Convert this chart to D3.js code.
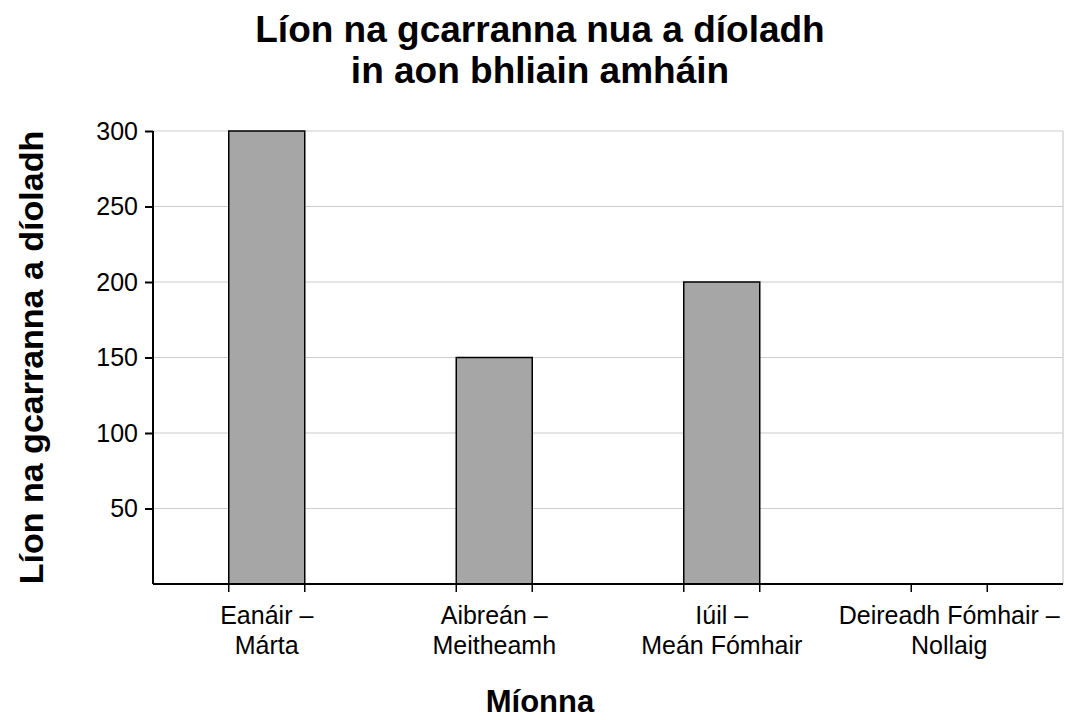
<!DOCTYPE html>
<meta charset="utf-8">
<script src="https://d3js.org/d3.v7.min.js"></script>
<style>
  body { margin: 0; background: #fff; }
  text { font-family: "Liberation Sans", Arial, sans-serif; }
</style>
<div id="page"></div>
<script>
  // Data
  var categories = [["Eanáir –", "Márta"], ["Aibreán –", "Meitheamh"], ["Iúil –", "Meán Fómhair"], ["Deireadh Fómhair –", "Nollaig"]];
  var values = [300, 150, 200, 0];
  var yTicks = [50, 100, 150, 200, 250, 300];
  var titleLines = ["Líon na gcarranna nua a díoladh", "in aon bhliain amháin"];

  var margin = { top: 131, right: 7, bottom: 136, left: 153 },
    width = 1070 - margin.left - margin.right,
    height = 720 - margin.top - margin.bottom;

  var root = d3.select("#page").append("svg")
    .attr("width", 1070)
    .attr("height", 720);

  var svg = root.append("g")
    .attr("transform", "translate(" + margin.left + "," + margin.top + ")");

  var idx = values.map(function (d, i) { return i; });

  var x = d3.scaleBand()
    .domain(idx)
    .range([0, width])
    .paddingInner(0.666)
    .paddingOuter(0.333);

  var y = d3.scaleLinear()
    .domain([0, 300])
    .range([height, 0]);

  // Gridlines
  svg.append("g")
    .selectAll("line")
    .data(yTicks)
    .enter().append("line")
    .attr("x1", 0)
    .attr("x2", width)
    .attr("y1", function (d) { return y(d); })
    .attr("y2", function (d) { return y(d); })
    .attr("stroke", "#cccccc")
    .attr("stroke-width", 1.2);

  // right border
  svg.append("line")
    .attr("x1", width).attr("x2", width)
    .attr("y1", y(300)).attr("y2", height)
    .attr("stroke", "#cccccc")
    .attr("stroke-width", 1.2);

  // Bars
  svg.selectAll(".bar")
    .data(values)
    .enter().append("rect")
    .attr("class", "bar")
    .attr("x", function (d, i) { return x(i); })
    .attr("width", x.bandwidth())
    .attr("y", function (d) { return y(d); })
    .attr("height", function (d) { return height - y(d); })
    .attr("fill", "#a6a6a6")
    .attr("stroke", "#000")
    .attr("stroke-width", 1.5)
    .style("display", function (d) { return d > 0 ? null : "none"; });

  // Y axis
  var yAxis = svg.append("g")
    .call(d3.axisLeft(y).tickValues(yTicks).tickSize(8).tickPadding(7));
  yAxis.select(".domain").attr("stroke-width", 2)
    .attr("d", "M0," + y(300) + "V" + height);
  yAxis.selectAll(".tick line").attr("stroke-width", 2);
  yAxis.selectAll("text")
    .attr("font-size", "25px")
    .attr("fill", "#000")
    .style("font-family", "'Liberation Sans', Arial, sans-serif");

  // X axis: ticks at bar edges
  var edges = [];
  idx.forEach(function (i) { edges.push(x(i)); edges.push(x(i) + x.bandwidth()); });
  var xg = svg.append("g").attr("transform", "translate(0," + height + ")");
  xg.append("line")
    .attr("x1", 0).attr("x2", width)
    .attr("stroke", "#000").attr("stroke-width", 2);
  xg.selectAll(".edge")
    .data(edges)
    .enter().append("line")
    .attr("class", "edge")
    .attr("x1", function (d) { return d; })
    .attr("x2", function (d) { return d; })
    .attr("y1", 0).attr("y2", 8)
    .attr("stroke", "#000").attr("stroke-width", 1.5);

  var lab = xg.selectAll(".lab")
    .data(categories)
    .enter().append("text")
    .attr("class", "lab")
    .attr("text-anchor", "middle")
    .attr("font-size", "25px")
    .attr("x", function (d, i) { return x(i) + x.bandwidth() / 2; });
  lab.selectAll("tspan")
    .data(function (d) { return d; })
    .enter().append("tspan")
    .attr("x", function () { return d3.select(this.parentNode).attr("x"); })
    .attr("y", function (d, j) { return 40 + j * 30; })
    .text(function (d) { return d; });

  // Title
  root.append("text")
    .attr("text-anchor", "middle")
    .attr("font-size", "37px")
    .attr("font-weight", "bold")
    .selectAll("tspan")
    .data(titleLines)
    .enter().append("tspan")
    .attr("x", 540)
    .attr("y", function (d, i) { return 42 + i * 41; })
    .text(function (d) { return d; });

  // Axis titles
  root.append("text")
    .attr("text-anchor", "middle")
    .attr("font-size", "34px")
    .attr("font-weight", "bold")
    .attr("transform", "translate(43," + (margin.top + height / 2) + ")rotate(-90)")
    .text("Líon na gcarranna a díoladh");

  root.append("text")
    .attr("text-anchor", "middle")
    .attr("font-size", "31px")
    .attr("font-weight", "bold")
    .attr("x", 540)
    .attr("y", 712)
    .text("Míonna");
</script>
